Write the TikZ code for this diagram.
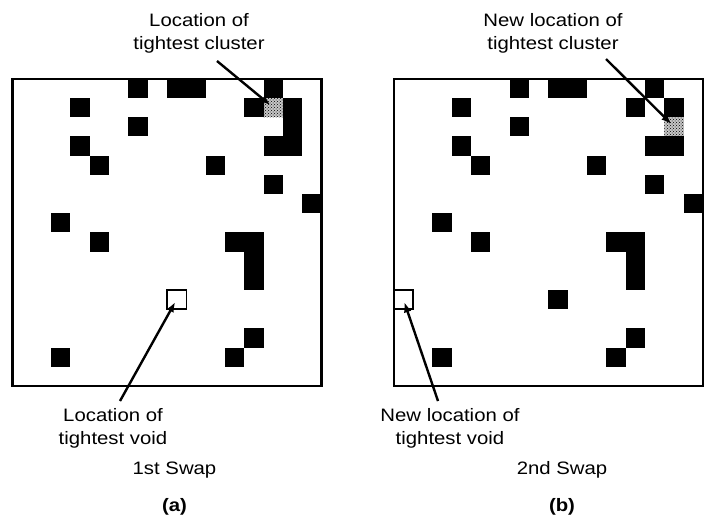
\documentclass[tikz,border=0pt]{standalone}
\usepackage{fontspec}
\setmainfont{Liberation Sans}[FakeStretch=1.13]
\usetikzlibrary{arrows.meta,patterns}
\begin{document}
\begin{tikzpicture}[x=1pt,y=-1pt,
  lbl/.style={font=\fontsize{18}{23}\selectfont, align=center, inner sep=0pt},
  sublbl/.style={font=\fontsize{18}{23}\selectfont\bfseries, inner sep=0pt},
  frame/.style={draw=black, line width=2.4pt},
  voidbox/.style={draw=black, line width=1.4pt, minimum width=19.33pt, minimum height=19.2pt, inner sep=0pt, shape=rectangle},
  clusterbox/.style={minimum width=19.33pt, minimum height=19.2pt, inner sep=0pt, shape=rectangle, preaction={fill=gray!45}, pattern=crosshatch dots, pattern color=black},
  pointer/.style={line width=2.4pt, -{Latex[length=10pt,width=8pt]}, shorten >=3pt}]
\useasboundingbox (0,0) rectangle (709,520);
\fill[white] (0,0) rectangle (709,520);

% ---------- panel (a) ----------
\begin{scope}[shift={(12.3,78.7)}]
  \foreach \c/\r in {6/0,8/0,9/0,13/0,3/1,12/1,14/1,6/2,14/2,3/3,13/3,14/3,4/4,10/4,13/5,15/6,2/7,4/8,11/8,12/8,12/9,12/10,12/13,2/14,11/14}
    \fill[black] (\c*19.33,\r*19.2) rectangle ++(19.33,19.2);
  \node[clusterbox] (cl1) at (13.5*19.33,1.5*19.2) {};
  \node[voidbox] (vd1) at (8.5*19.33,11.5*19.2) {};
  \draw[frame] (0,0) rectangle (16*19.33,16*19.2);
\end{scope}

% ---------- panel (b) ----------
\begin{scope}[shift={(393.8,78.7)}]
  \foreach \c/\r in {6/0,8/0,9/0,13/0,3/1,12/1,14/1,6/2,3/3,13/3,14/3,4/4,10/4,13/5,15/6,2/7,4/8,11/8,12/8,12/9,12/10,8/11,12/13,2/14,11/14}
    \fill[black] (\c*19.33,\r*19.2) rectangle ++(19.33,19.2);
  \node[clusterbox] (cl2) at (14.5*19.33,2.5*19.2) {};
  \node[voidbox] (vd2) at (0.5*19.33,11.5*19.2) {};
  \draw[frame] (0,0) rectangle (16*19.33,16*19.2);
\end{scope}

% ---------- labels ----------
\node[lbl, anchor=north] (t1) at (199,13) {Location of\\tightest cluster};
\node[lbl, anchor=north] (t2) at (553,13) {New location of\\tightest cluster};
\node[lbl, anchor=north] (t3) at (113,408) {Location of\\tightest void};
\node[lbl, anchor=north] (t4) at (450,408) {New location of\\tightest void};
\node[lbl, anchor=base] (s1) at (174.5,474) {1st Swap};
\node[lbl, anchor=base] (s2) at (562,474) {2nd Swap};
\node[sublbl, anchor=base] (p1) at (174.5,511) {(a)};
\node[sublbl, anchor=base] (p2) at (562,511) {(b)};

% ---------- pointers ----------
\coordinate (a1) at (217,61);
\coordinate (a2) at (606,59);
\coordinate (a3) at (120,401);
\coordinate (a4) at (438,401);
\draw[pointer, shorten >=4pt] (a1) -- (cl1.center);
\draw[pointer, shorten >=4pt] (a2) -- (cl2.center);
\draw[pointer] (a3) -- (vd1.center);
\draw[pointer] (a4) -- (vd2.center);
\end{tikzpicture}
\end{document}
